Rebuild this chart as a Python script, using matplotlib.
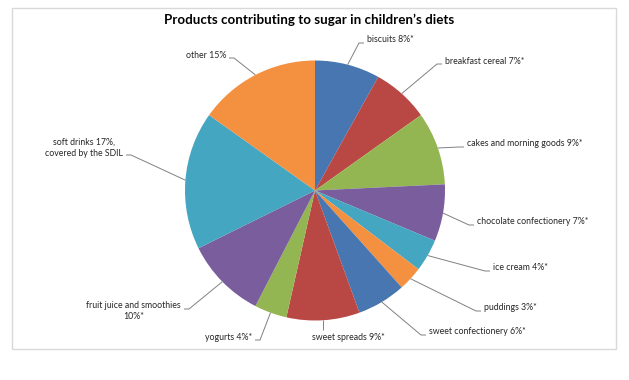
import matplotlib
matplotlib.use("Agg")
import matplotlib.pyplot as plt
import numpy as np
from matplotlib.patches import Rectangle

title = "Products contributing to sugar in children\u2019s diets"
categories = ["biscuits", "breakfast cereal", "cakes and morning goods",
              "chocolate confectionery", "ice cream", "puddings",
              "sweet confectionery", "sweet spreads", "yogurts",
              "fruit juice and smoothies", "soft drinks", "other"]
values = [8, 7, 9, 7, 4, 3, 6, 9, 4, 10, 17, 15]
label_texts = ["biscuits 8%*", "breakfast cereal 7%*", "cakes and morning goods 9%*",
               "chocolate confectionery 7%*", "ice cream 4%*", "puddings 3%*",
               "sweet confectionery 6%*", "sweet spreads 9%*", "yogurts 4%*",
               "fruit juice and smoothies\n10%*", "soft drinks 17%,\ncovered by the SDIL",
               "other 15%"]
colors = ["#4776B0", "#B94744", "#93B652", "#7A5D9C", "#44A6C0", "#F39141",
          "#4776B0", "#B94744", "#93B652", "#7A5D9C", "#44A6C0", "#F39141"]

W, H = 629, 380
fig = plt.figure(figsize=(W / 100, H / 100), dpi=100)
ax = fig.add_axes([0, 0, 1, 1])

def Y(py):
    return H - py

cx, cy, R = 315, Y(190.5), 130
wedges, _ = ax.pie(values, colors=colors, startangle=90, counterclock=False,
                   center=(cx, cy), radius=R, frame=True,
                   wedgeprops=dict(linewidth=0))
ax.set_xlim(0, W)
ax.set_ylim(0, H)
ax.set_aspect("equal")
ax.axis("off")

# chart border
ax.add_patch(Rectangle((12, Y(349)), 604, 341, fill=False, edgecolor="#D9D9D9", lw=1))

fam = ["Lato", "DejaVu Sans"]
ax.text(309, Y(20), title, ha="center", va="center", fontsize=9.6,
        fontweight="bold", family=fam, color="#000000")

# label layout: (text x, text y, ha, line end x, line end y)
layout = [
    (367, 40, "left", 364, 43),
    (445, 61, "left", 442, 64),
    (467, 144, "left", 464, 147),
    (477, 222, "left", 474, 225),
    (493, 268, "left", 490, 271),
    (484, 308, "left", 481, 311),
    (429, 332, "left", 426, 335),
    (348, 337, "center", None, 330),
    (252, 337, "right", 255, 340),
    (181, 311, "right", 184, 309),
    (123, 147.5, "right", 126, 155),
    (226, 55, "right", 229, 58),
]

total = sum(values)
cum = 0
for v, txt, (tx, ty, ha, ex, ey) in zip(values, label_texts, layout):
    mid = cum + v / 2
    cum += v
    ang = np.deg2rad(90 - mid / total * 360)
    axp = cx + R * np.cos(ang)
    ayp = cy + R * np.sin(ang)
    if ex is None:
        xs = [axp, axp]
        ys = [ayp, Y(ey)]
    else:
        step = 5 if ha == "left" else -5
        xs = [axp, ex - step, ex]
        ys = [ayp, Y(ey), Y(ey)]
    ax.plot(xs, ys, color="#808080", lw=0.7, solid_capstyle="butt")
    ax.text(tx, Y(ty), txt, ha=ha, va="center", fontsize=6.3, family=fam,
            color="#262626", multialignment="center", linespacing=1.3)

fig.savefig("out.png", dpi=100, facecolor="white")
